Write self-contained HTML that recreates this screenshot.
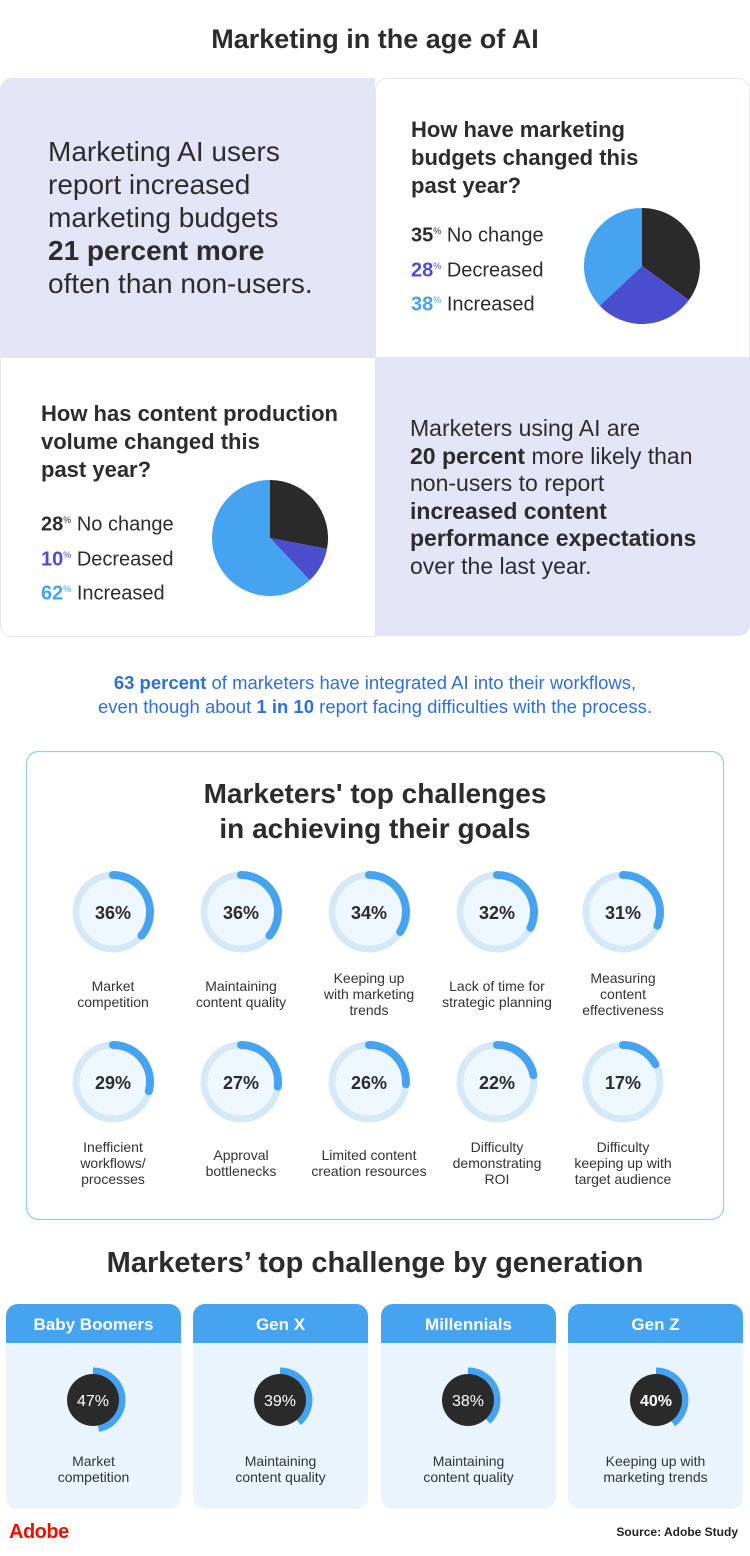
<!DOCTYPE html>
<html><head><meta charset="utf-8"><style>
body{margin:0;width:750px;height:1556px;background:#fff;font-family:"Liberation Sans",sans-serif;color:#2c2c2c;position:relative;overflow:hidden}
.a{position:absolute}
.c{text-align:center}
.b{font-weight:bold}
.lbl{position:absolute;width:140px;text-align:center;font-size:14px;line-height:16px;color:#333}
.card{position:absolute;top:1304px;width:175px;height:205px;background:#eaf4fd;border-radius:12px;overflow:hidden}
.card .h{height:39px;background:#45a3f0;color:#fff;font-weight:bold;font-size:17px;line-height:41px;text-align:center}
.card .t{position:absolute;top:149px;width:100%;text-align:center;font-size:14px;line-height:16px;color:#333}
</style></head><body>
<div class="a c b" style="top:24px;width:750px;font-size:27px">Marketing in the age of AI</div>
<div class="a" style="left:0;top:78px;width:375px;height:279px;background:#e3e5f6;border-top-left-radius:12px"></div>
<div class="a" style="left:375px;top:78px;width:373px;height:279px;border:1px solid #e6e6ee;border-radius:12px 12px 0 0"></div>
<div class="a" style="left:0;top:357px;width:374px;height:278px;border:1px solid #e6e6ee;border-radius:0 0 0 12px"></div>
<div class="a" style="left:375px;top:357px;width:375px;height:279px;background:#e3e5f6;border-bottom-right-radius:12px"></div>
<div class="a" style="left:48px;top:135px;font-size:28px;line-height:33px;color:#2c2c2c">Marketing AI users<br>report increased<br>marketing budgets<br><b>21 percent more</b><br>often than non-users.</div>
<div class="a b" style="left:411px;top:116px;font-size:22px;line-height:28px">How have marketing<br>budgets changed this<br>past year?</div>
<div class="a" style="left:411px;top:216px;font-size:20px;line-height:30px"><b>35</b><sup style="font-size:9px">%</sup> No change<br><b style="color:#4b4fcf">28</b><sup style="font-size:9px;color:#4b4fcf">%</sup> Decreased<br><b style="color:#45a3f0">38</b><sup style="font-size:9px;color:#45a3f0">%</sup> Increased</div>
<div class="a b" style="left:41px;top:400px;font-size:22px;line-height:28px">How has content production<br>volume changed this<br>past year?</div>
<div class="a" style="left:41px;top:505px;font-size:20px;line-height:30px"><b>28</b><sup style="font-size:9px">%</sup> No change<br><b style="color:#4b4fcf">10</b><sup style="font-size:9px;color:#4b4fcf">%</sup> Decreased<br><b style="color:#45a3f0">62</b><sup style="font-size:9px;color:#45a3f0">%</sup> Increased</div>
<div class="a" style="left:410px;top:415px;font-size:23px;line-height:27.5px">Marketers using AI are<br><b>20 percent</b> more likely than<br>non-users to report<br><b>increased content<br>performance expectations</b><br>over the last year.</div>
<svg class="a" style="left:0;top:0" width="750" height="1556">
<path d="M642 266 L642 208 A58 58 0 0 1 688.9 300.1Z" fill="#2b2b2b"/>
<path d="M642 266 L688.9 300.1 A58 58 0 0 1 599.7 305.7Z" fill="#4b4fcf"/>
<path d="M642 266 L599.7 305.7 A58 58 0 0 1 642 208Z" fill="#45a3f0"/>
<path d="M270 538 L270 480 A58 58 0 0 1 327 548.9Z" fill="#2b2b2b"/>
<path d="M270 538 L327 548.9 A58 58 0 0 1 309.7 580.3Z" fill="#4b4fcf"/>
<path d="M270 538 L309.7 580.3 A58 58 0 1 1 270 480Z" fill="#45a3f0"/>
<rect x="26.5" y="751.5" width="697" height="468" rx="12" fill="none" stroke="#8fd0ea" stroke-width="1.2"/>
<g id="rings"></g>
</svg>
<div class="a c" style="top:671px;width:750px;font-size:18.5px;line-height:24px;color:#2f6fd8"><b>63 percent</b> of marketers have integrated AI into their workflows,<br>even though about <b>1 in 10</b> report facing difficulties with the process.</div>
<div class="a c b" style="top:776px;width:750px;font-size:28px;line-height:35px">Marketers' top challenges<br>in achieving their goals</div>
<svg class="a" style="left:0;top:0" width="750" height="1300">
<g fill="#eef6fe" stroke="#d5e8f8" stroke-width="7">
<circle cx="113" cy="912" r="37"/><circle cx="241" cy="912" r="37"/><circle cx="369" cy="912" r="37"/><circle cx="497" cy="912" r="37"/><circle cx="623" cy="912" r="37"/>
<circle cx="113" cy="1082" r="37"/><circle cx="241" cy="1082" r="37"/><circle cx="369" cy="1082" r="37"/><circle cx="497" cy="1082" r="37"/><circle cx="623" cy="1082" r="37"/>
</g>
<g fill="none" stroke="#45a3f0" stroke-width="8" stroke-linecap="round">
<circle cx="113" cy="912" r="37" pathLength="100" stroke-dasharray="36 100" transform="rotate(-90 113 912)"/>
<circle cx="241" cy="912" r="37" pathLength="100" stroke-dasharray="36 100" transform="rotate(-90 241 912)"/>
<circle cx="369" cy="912" r="37" pathLength="100" stroke-dasharray="34 100" transform="rotate(-90 369 912)"/>
<circle cx="497" cy="912" r="37" pathLength="100" stroke-dasharray="32 100" transform="rotate(-90 497 912)"/>
<circle cx="623" cy="912" r="37" pathLength="100" stroke-dasharray="31 100" transform="rotate(-90 623 912)"/>
<circle cx="113" cy="1082" r="37" pathLength="100" stroke-dasharray="29 100" transform="rotate(-90 113 1082)"/>
<circle cx="241" cy="1082" r="37" pathLength="100" stroke-dasharray="27 100" transform="rotate(-90 241 1082)"/>
<circle cx="369" cy="1082" r="37" pathLength="100" stroke-dasharray="26 100" transform="rotate(-90 369 1082)"/>
<circle cx="497" cy="1082" r="37" pathLength="100" stroke-dasharray="22 100" transform="rotate(-90 497 1082)"/>
<circle cx="623" cy="1082" r="37" pathLength="100" stroke-dasharray="17 100" transform="rotate(-90 623 1082)"/>
</g>
<g font-family="Liberation Sans,sans-serif" font-size="18" font-weight="bold" fill="#2c2c2c" text-anchor="middle">
<text x="113" y="919">36%</text><text x="241" y="919">36%</text><text x="369" y="919">34%</text><text x="497" y="919">32%</text><text x="623" y="919">31%</text>
<text x="113" y="1089">29%</text><text x="241" y="1089">27%</text><text x="369" y="1089">26%</text><text x="497" y="1089">22%</text><text x="623" y="1089">17%</text>
</g>
</svg>
<div class="lbl" style="left:43px;top:978px">Market<br>competition</div>
<div class="lbl" style="left:171px;top:978px">Maintaining<br>content quality</div>
<div class="lbl" style="left:299px;top:970px">Keeping up<br>with marketing<br>trends</div>
<div class="lbl" style="left:427px;top:978px">Lack of time for<br>strategic planning</div>
<div class="lbl" style="left:553px;top:970px">Measuring<br>content<br>effectiveness</div>
<div class="lbl" style="left:43px;top:1139px">Inefficient<br>workflows/<br>processes</div>
<div class="lbl" style="left:171px;top:1147px">Approval<br>bottlenecks</div>
<div class="lbl" style="left:299px;top:1147px">Limited content<br>creation resources</div>
<div class="lbl" style="left:427px;top:1139px">Difficulty<br>demonstrating<br>ROI</div>
<div class="lbl" style="left:553px;top:1139px">Difficulty<br>keeping up with<br>target audience</div>
<div class="a c b" style="top:1247px;width:750px;font-size:29px">Marketers’ top challenge by generation</div>
<div class="card" style="left:6px"><div class="h">Baby Boomers</div><div class="t">Market<br>competition</div></div>
<div class="card" style="left:193px"><div class="h">Gen X</div><div class="t">Maintaining<br>content quality</div></div>
<div class="card" style="left:381px"><div class="h">Millennials</div><div class="t">Maintaining<br>content quality</div></div>
<div class="card" style="left:568px"><div class="h">Gen Z</div><div class="t">Keeping up with<br>marketing trends</div></div>
<svg class="a" style="left:0;top:1350px" width="750" height="110">
<g fill="none" stroke="#45a3f0" stroke-width="7">
<circle cx="93" cy="50" r="29" pathLength="100" stroke-dasharray="47 100" transform="rotate(-90 93 50)"/>
<circle cx="280" cy="50" r="29" pathLength="100" stroke-dasharray="39 100" transform="rotate(-90 280 50)"/>
<circle cx="468" cy="50" r="29" pathLength="100" stroke-dasharray="38 100" transform="rotate(-90 468 50)"/>
<circle cx="656" cy="50" r="29" pathLength="100" stroke-dasharray="40 100" transform="rotate(-90 656 50)"/>
</g>
<g fill="#2b2b2b"><circle cx="93" cy="50" r="26"/><circle cx="280" cy="50" r="26"/><circle cx="468" cy="50" r="26"/><circle cx="656" cy="50" r="26"/></g>
<g font-family="Liberation Sans,sans-serif" font-size="16" fill="#fff" text-anchor="middle">
<text x="93" y="56">47%</text><text x="280" y="56">39%</text><text x="468" y="56">38%</text><text x="656" y="56" font-weight="bold">40%</text>
</g>
</svg>
<div class="a b" style="left:9px;top:1521px;font-size:20px;color:#eb1000;letter-spacing:-0.5px">Adobe</div>
<div class="a b" style="right:12px;top:1525px;font-size:12px;color:#222">Source: Adobe Study</div>
</body></html>
